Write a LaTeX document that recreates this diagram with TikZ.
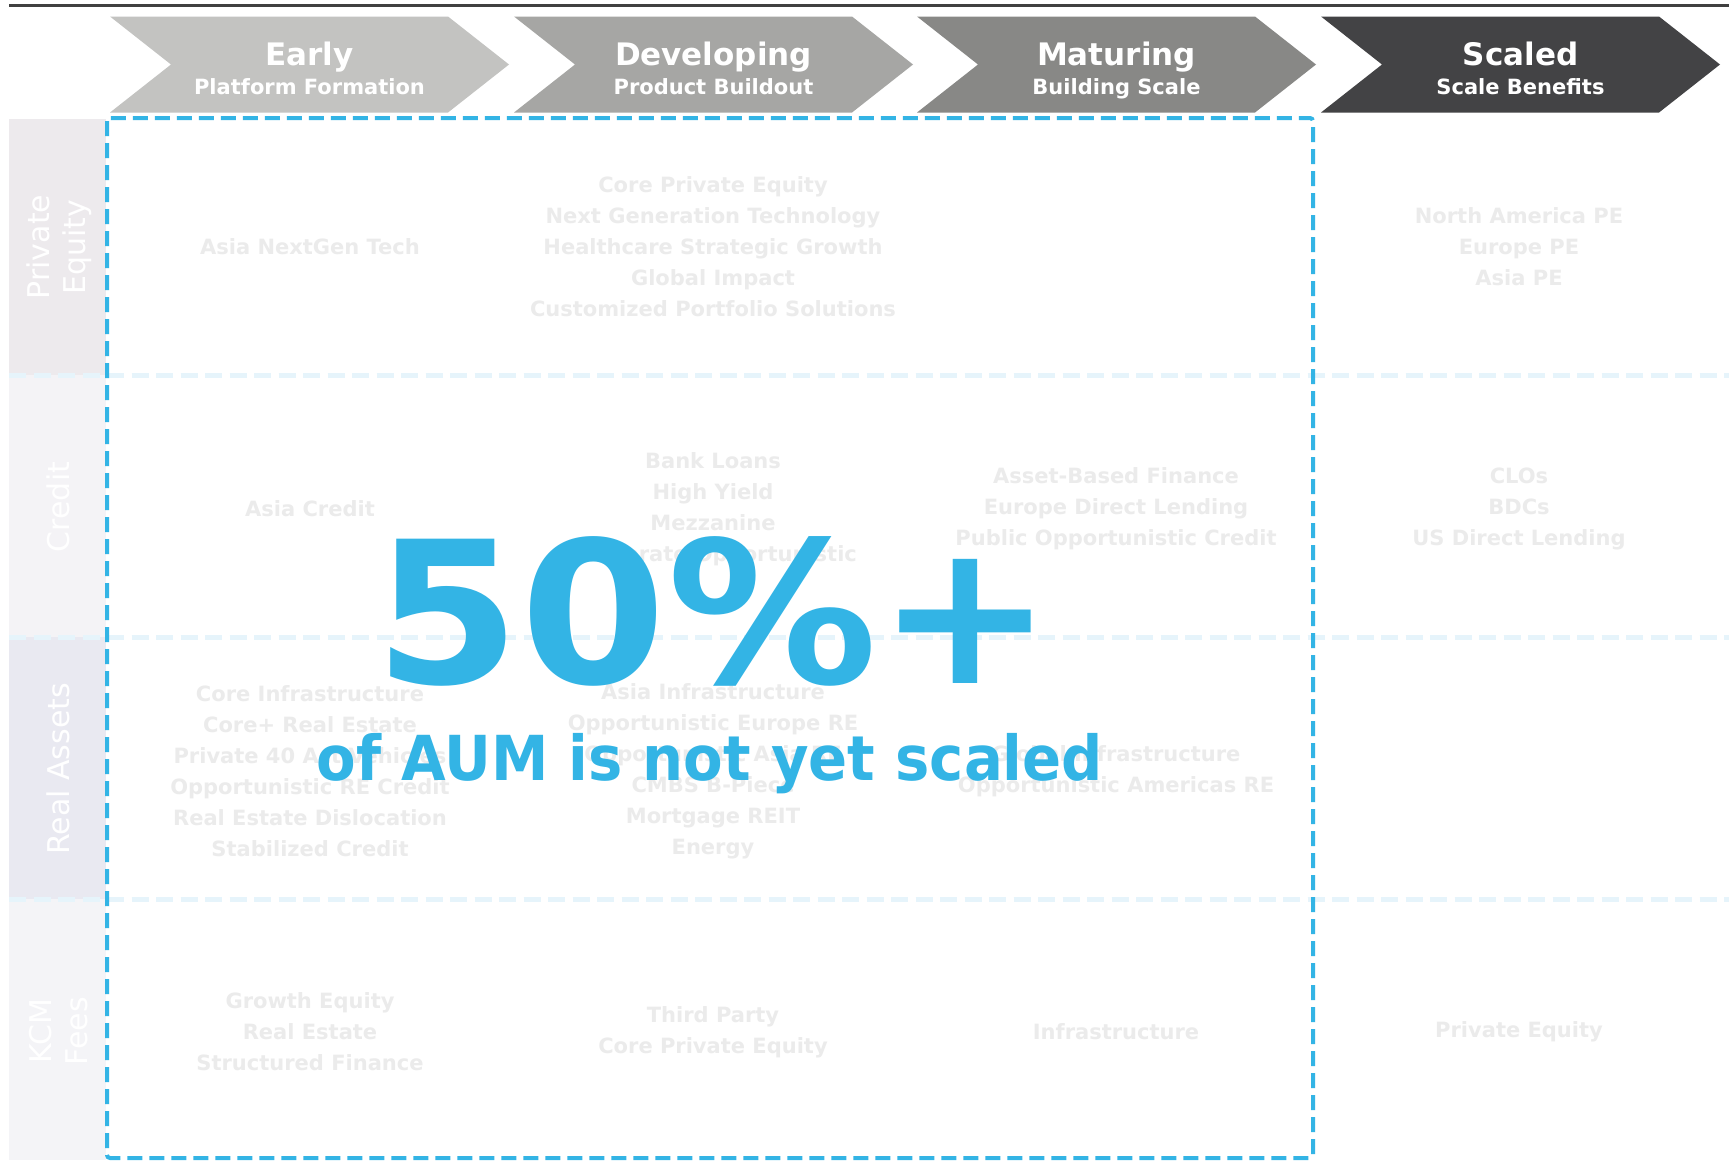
\documentclass[tikz,border=0pt]{standalone}
\usepackage{fontspec}
\setmainfont{DejaVu Sans}
\usepackage{xcolor}
\usepackage{tikz}

\definecolor{aumblue}{HTML}{33B4E5}
\definecolor{celltext}{HTML}{EBEBEB}
\definecolor{rowline}{HTML}{E6F4FB}
\definecolor{topline}{HTML}{404040}
\definecolor{bandpe}{HTML}{EDEAED}
\definecolor{bandcredit}{HTML}{F4F3F6}
\definecolor{bandra}{HTML}{E9E9F1}
\definecolor{bandkcm}{HTML}{F4F4F7}
\definecolor{stageearly}{HTML}{C3C3C1}
\definecolor{stagedev}{HTML}{A6A6A4}
\definecolor{stagemat}{HTML}{888886}
\definecolor{stagescaled}{HTML}{434345}

\tikzset{
    cell/.style={text=celltext, font=\bfseries\fontsize{21}{31}\selectfont, align=center, inner sep=0pt},
    sidelabel/.style={text=white, font=\fontsize{30}{36}\selectfont, rotate=90, align=center, inner sep=0pt},
    rowsep/.style={rowline, line width=5pt, dash pattern=on 17pt off 7.5pt},
    stagetitle/.style={text=white, font=\bfseries\fontsize{31}{31}\selectfont, inner sep=0pt, anchor=base},
    stagesub/.style={text=white, font=\bfseries\fontsize{21}{21}\selectfont, inner sep=0pt, anchor=base},
}

\begin{document}
\begin{tikzpicture}[x=1pt, y=-1pt]
    \useasboundingbox[fill=white] (0,0) rectangle (1729,1160);

    % Side bands
    \fill[bandpe] (9,119) rectangle (106,375);
    \fill[bandcredit] (9,375) rectangle (106,637);
    \fill[bandra] (9,637) rectangle (106,899);
    \fill[bandkcm] (9,899) rectangle (106,1160);
    \node[sidelabel] (side-pe) at (59,247) {Private\\Equity};
    \node[sidelabel] (side-credit) at (58,507) {Credit};
    \node[sidelabel] (side-ra) at (58,769) {Real Assets};
    \node[sidelabel] (side-kcm) at (59,1031) {KCM\\Fees};

    % Row separators
    \foreach \y in {375,637,899} {
        \draw[rowsep] (9,\y) -- (1729,\y);
    }

    % Private Equity row
    \node[cell] (pe-early) at (310,247) {Asia NextGen Tech};
    \node[cell] (pe-dev) at (713,247) {Core Private Equity\\Next Generation Technology\\Healthcare Strategic Growth\\Global Impact\\Customized Portfolio Solutions};
    \node[cell] (pe-scaled) at (1519,247) {North America PE\\Europe PE\\Asia PE};

    % Credit row
    \node[cell] (cr-early) at (310,509) {Asia Credit};
    \node[cell] (cr-dev) at (713,509) {Bank Loans\\High Yield\\Mezzanine\\Corporate Opportunistic};
    \node[cell] (cr-mat) at (1116,509) {Asset-Based Finance\\Europe Direct Lending\\Public Opportunistic Credit};
    \node[cell] (cr-scaled) at (1519,509) {CLOs\\BDCs\\US Direct Lending};

    % Real Assets row
    \node[cell] (ra-early) at (310,771) {Core Infrastructure\\Core+ Real Estate\\Private 40 Act Vehicles\\Opportunistic RE Credit\\Real Estate Dislocation\\Stabilized Credit};
    \node[cell] (ra-dev) at (713,771) {Asia Infrastructure\\Opportunistic Europe RE\\Opportunistic Asia RE\\CMBS B-Piece\\Mortgage REIT\\Energy};
    \node[cell] (ra-mat) at (1116,771) {Global Infrastructure\\Opportunistic Americas RE};

    % KCM Fees row
    \node[cell] (kcm-early) at (310,1032) {Growth Equity\\Real Estate\\Structured Finance};
    \node[cell] (kcm-dev) at (713,1032) {Third Party\\Core Private Equity};
    \node[cell] (kcm-mat) at (1116,1032) {Infrastructure};
    \node[cell] (kcm-scaled) at (1519,1032) {Private Equity};

    % Not yet scaled box
    \draw[aumblue, line width=4pt, dash pattern=on 15pt off 7pt, rounded corners=3pt] (107,118) rectangle (1313,1158);
    \node[text=aumblue, font=\bfseries\fontsize{198}{198}\selectfont, anchor=base, inner sep=0pt, xscale=1.06] (pct) at (714,683) {50\%+};
    \node[text=aumblue, font=\bfseries\fontsize{62}{62}\selectfont, anchor=base, inner sep=0pt, xscale=0.93] (pct-sub) at (710,780) {of AUM is not yet scaled};

    % Stage chevrons
    \foreach \x/\col/\name/\title/\sub in {110/stageearly/early/Early/Platform Formation,
                                            514/stagedev/dev/Developing/Product Buildout,
                                            917/stagemat/mat/Maturing/Building Scale,
                                            1321/stagescaled/scaled/Scaled/Scale Benefits} {
        \fill[\col] (\x,16.5) -- ++(338,0) -- ++(61,48) -- ++(-61,48) -- ++(-338,0) -- ++(61,-48) -- cycle;
        \node[stagetitle] (\name-title) at (\x+199.5,65) {\title};
        \node[stagesub] (\name-sub) at (\x+199.5,94) {\sub};
    }

    % Top rule
    \draw[topline, line width=3pt] (9,5) -- (1729,5);
\end{tikzpicture}
\end{document}
